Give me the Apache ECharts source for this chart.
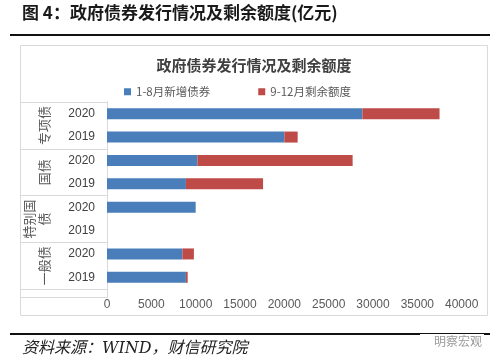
<!DOCTYPE html>
<html>
<head>
<meta charset="utf-8">
<script src="https://cdn.jsdelivr.net/npm/echarts@6/dist/echarts.min.js"></script>
<style>
html,body{margin:0;padding:0;background:#fff;}
#c{width:500px;height:362px;}
</style>
</head>
<body>
<div id="c"></div>
<script>
// ---- data ----
var years = ['2020', '2019', '2020', '2019', '2020', '2019', '2020', '2019'];
var groups = ['专项债', '国债', '特别国\n债', '一般债'];
var newIssued = [28800, 20000, 10200, 8900, 10000, '-', 8500, 8900];   // 1-8月新增债券
var remaining = [8700, 1500, 17500, 8700, '-', '-', 1300, 200];       // 9-12月剩余额度
var xTicks = { min: 0, max: 40000, interval: 5000 };
var seriesNames = ['1-8月新增债券', '9-12月剩余额度'];
var chartTitle = '政府债券发行情况及剩余额度';
var headerText = '图 4：政府债券发行情况及剩余额度(亿元)';
var footerText = '资料来源：WIND，财信研究院';
var watermark = '明察宏观';

var chart = echarts.init(document.getElementById('c'), null, { renderer: 'canvas' });
var cjk = '"Noto Sans CJK SC", "Noto Sans", sans-serif';
var num = '"Liberation Sans", "Noto Sans CJK SC", sans-serif';
var gray = '#d9d9d9';

chart.setOption({
  backgroundColor: '#fff',
  animation: false,
  graphic: [
    { type: 'text', left: 22, top: 4, style: { text: headerText, font: 'bold 17px ' + cjk, fill: '#1a1a1a' } },
    { type: 'line', shape: { x1: 10, y1: 35, x2: 490, y2: 35 }, style: { stroke: '#111', lineWidth: 2 } },
    { type: 'rect', shape: { x: 20.5, y: 45.5, width: 467, height: 270 }, style: { fill: 'none', stroke: gray, lineWidth: 1 } },
    { type: 'text', x: 254, y: 65, style: { text: chartTitle, font: 'bold 15px ' + cjk, fill: '#404040', align: 'center', verticalAlign: 'middle' } },
    { type: 'line', shape: { x1: 20, y1: 297.5, x2: 107, y2: 297.5 }, style: { stroke: gray, lineWidth: 1 } },
    { type: 'line', shape: { x1: 107.5, y1: 289, x2: 107.5, y2: 298 }, style: { stroke: gray, lineWidth: 1 } },
    { type: 'line', shape: { x1: 10, y1: 334, x2: 490, y2: 334 }, style: { stroke: '#111', lineWidth: 2 } },
    { type: 'text', left: 22, top: 341, style: { text: footerText, font: 'italic 16px "DejaVu Serif", ' + cjk, fill: '#222' } },
    { type: 'text', x: 484, y: 341, style: { text: watermark, font: '12px ' + cjk, fill: '#9a9a9a', align: 'right', verticalAlign: 'middle', backgroundColor: '#fff', padding: [1, 2, 1, 14] } }
  ],
  legend: {
    left: 119, top: 81,
    icon: 'rect', itemWidth: 7, itemHeight: 7, itemGap: 48,
    textStyle: { fontFamily: cjk, fontSize: 11.5, color: '#595959' },
    data: seriesNames
  },
  grid: { left: 107, right: 38.3, top: 102, bottom: 73, containLabel: false },
  xAxis: {
    type: 'value', min: xTicks.min, max: xTicks.max, interval: xTicks.interval,
    axisLine: { show: false }, axisTick: { show: false }, splitLine: { show: false },
    axisLabel: { fontFamily: num, fontSize: 12, color: '#595959', margin: 10, formatter: function (v) { return String(v); } }
  },
  yAxis: [
    {
      type: 'category', data: years, inverse: true, position: 'left',
      axisLine: { show: false }, axisTick: { show: false },
      axisLabel: { interval: 0, fontFamily: num, fontSize: 12, color: '#404040', margin: 12 }
    },
    {
      type: 'category', data: groups, inverse: true, position: 'left', offset: 0,
      axisLine: { show: true, lineStyle: { color: gray } },
      axisTick: { show: true, interval: 0, length: 87, lineStyle: { color: gray } },
      axisLabel: { interval: 0, rotate: 90, fontFamily: cjk, fontSize: 13, color: '#595959', margin: 55, lineHeight: 15 }
    }
  ],
  series: [
    { name: seriesNames[0], type: 'bar', stack: 'a', yAxisIndex: 0, data: newIssued, barWidth: 11, itemStyle: { color: '#4a7ebb' } },
    { name: seriesNames[1], type: 'bar', stack: 'a', yAxisIndex: 0, data: remaining, barWidth: 11, itemStyle: { color: '#be4b48' } }
  ]
});
</script>
</body>
</html>
